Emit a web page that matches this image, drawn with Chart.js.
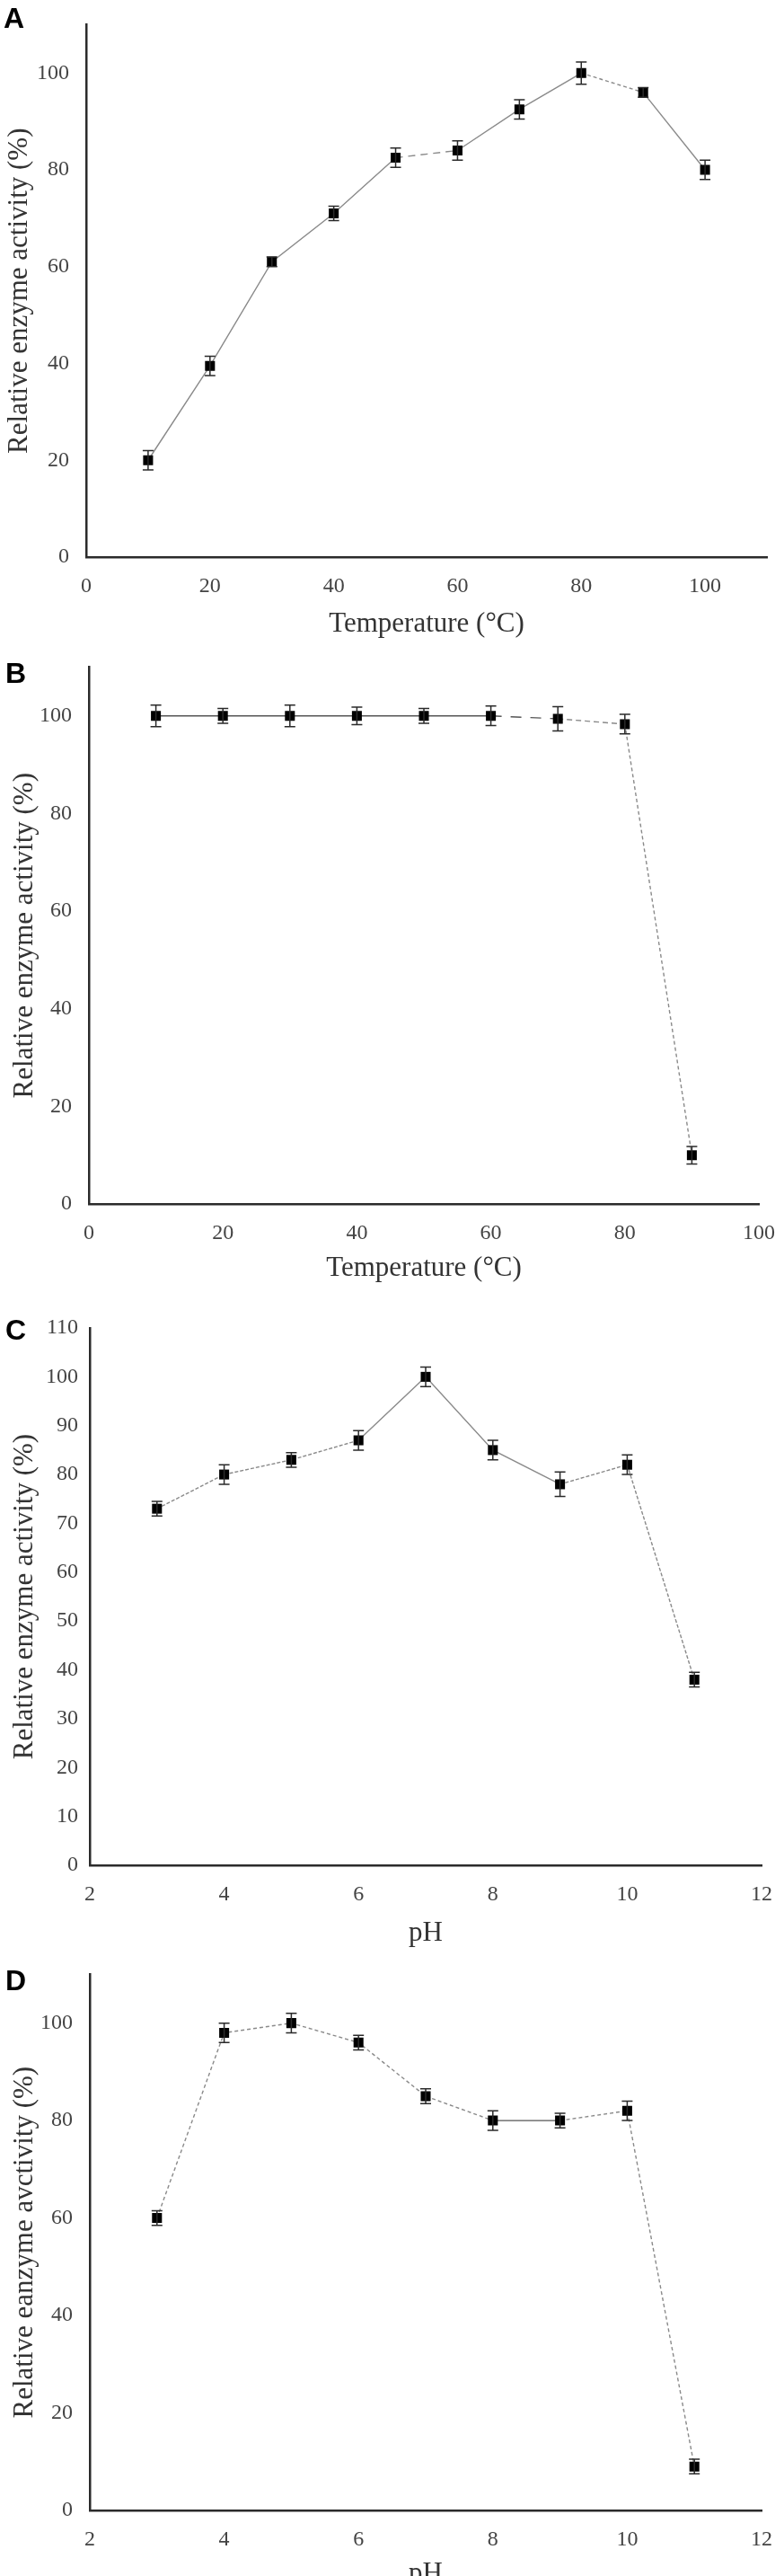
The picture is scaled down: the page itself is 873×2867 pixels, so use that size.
<!DOCTYPE html>
<html>
<head>
<meta charset="utf-8">
<script src="https://cdn.jsdelivr.net/npm/chart.js@4.4.1/dist/chart.umd.min.js"></script>
<style>
  html, body { margin: 0; padding: 0; background: #fff; overflow: hidden; }
  body { width: 873px; height: 2867px; position: relative; }
  .panel { position: absolute; left: 0; width: 873px; }
  .letter { position: absolute; font: bold 32px "Liberation Sans", Arial, sans-serif; line-height: 32px; color: #000; }
</style>
</head>
<body>
<div class="panel" style="top:0;height:715px"><canvas id="chartA"></canvas></div>
<div class="panel" style="top:715px;height:715px"><canvas id="chartB"></canvas></div>
<div class="panel" style="top:1430px;height:740px"><canvas id="chartC"></canvas></div>
<div class="panel" style="top:2170px;height:720px"><canvas id="chartD"></canvas></div>
<div class="letter" style="left:4px;top:4px">A</div>
<div class="letter" style="left:6px;top:733px">B</div>
<div class="letter" style="left:6px;top:1464px">C</div>
<div class="letter" style="left:6px;top:2188px">D</div>
<script>
// A: optimum temperature
const tempA = [10, 20, 30, 40, 50, 60, 70, 80, 90, 100];
const activityA = [20, 39.5, 61, 71, 82.5, 84, 92.5, 100, 96, 80];
const errorA = [2, 2, 1, 1.5, 2, 2, 2, 2.3, 1, 2];
const xTicksA = [0, 20, 40, 60, 80, 100];

// B: thermal stability
const tempB = [10, 20, 30, 40, 50, 60, 70, 80, 90];
const activityB = [100, 100, 100, 100, 100, 100, 99.4, 98.3, 10];
const errorB = [2.2, 1.5, 2.2, 1.8, 1.5, 2, 2.5, 2, 1.8];
const xTicksB = [0, 20, 40, 60, 80, 100];

// C: optimum pH
const phC = [3, 4, 5, 6, 7, 8, 9, 10, 11];
const activityC = [73, 80, 83, 87, 100, 85, 78, 82, 38];
const errorC = [1.5, 2, 1.5, 2, 2, 2, 2.5, 2, 1.5];

// D: pH stability
const phD = [3, 4, 5, 6, 7, 8, 9, 10, 11];
const activityD = [60, 98, 100, 96, 85, 80, 80, 82, 9];
const errorD = [1.5, 2, 2, 1.5, 1.5, 2, 1.5, 2, 1.5];

const xTicksPh = [2, 4, 6, 8, 10, 12];
const yTicks20 = [0, 20, 40, 60, 80, 100];
const yTicks10 = [0, 10, 20, 30, 40, 50, 60, 70, 80, 90, 100, 110];
const yMinorC = [5, 15, 25, 35, 45, 55, 65, 75, 85, 95, 105];

const tickFont = { family: '"Liberation Serif", "Times New Roman", serif', size: 24 };
const titleFont = { family: '"Liberation Serif", "Times New Roman", serif', size: 31 };

const errorBars = {
  id: 'errorBars',
  afterDatasetsDraw(chart, args, options) {
    const { ctx, scales: { x, y } } = chart;
    const points = chart.data.datasets[0].data;
    ctx.save();
    ctx.strokeStyle = '#2a2a2a';
    ctx.lineWidth = 1.5;
    points.forEach((p, i) => {
      const e = options.errors[i];
      const px = x.getPixelForValue(p.x);
      const hi = y.getPixelForValue(p.y + e);
      const lo = y.getPixelForValue(p.y - e);
      ctx.beginPath();
      ctx.moveTo(px, hi); ctx.lineTo(px, lo);
      ctx.moveTo(px - 6, hi); ctx.lineTo(px + 6, hi);
      ctx.moveTo(px - 6, lo); ctx.lineTo(px + 6, lo);
      ctx.stroke();
    });
    ctx.restore();
  }
};

function initChart(id, opts) {
  const { xs, ys, errors, xMin, xMax, xTicks, yTicks, yMinor = [], xTitle, yTitle, dashes, colors, box } = opts;
  const height = document.getElementById(id).parentNode.clientHeight;
  return new Chart(id, {
    type: 'line',
    data: {
      datasets: [{
        data: xs.map((x, i) => ({ x, y: ys[i] })),
        borderColor: '#8a8a8a',
        borderWidth: 1.4,
        pointStyle: 'rect',
        pointRadius: 7.8,
        pointBackgroundColor: '#000',
        pointBorderWidth: 0,
        tension: 0,
        segment: {
          borderDash: c => dashes[c.p0DataIndex],
          borderColor: c => colors[c.p0DataIndex]
        }
      }]
    },
    options: {
      responsive: true,
      maintainAspectRatio: false,
      animation: false,
      events: [],
      layout: { padding: { top: box.top, right: 873 - box.right, left: 0, bottom: 0 } },
      plugins: { legend: { display: false }, tooltip: { enabled: false }, errorBars: { errors } },
      scales: {
        x: {
          type: 'linear',
          min: xMin,
          max: xMax,
          afterBuildTicks: s => { s.ticks = xTicks.map(value => ({ value })); },
          afterFit: s => { s.height = height - box.bottom; },
          grid: { display: false },
          border: { color: '#2b2b2b', width: 2.5 },
          ticks: { font: tickFont, color: '#444', padding: 10 },
          title: { display: true, text: xTitle, font: titleFont, color: '#333', padding: { top: 0, bottom: box.xTitlePad } }
        },
        y: {
          min: 0,
          max: 110,
          afterBuildTicks: s => { s.ticks = yTicks.concat(yMinor).sort((a, b) => a - b).map(value => ({ value })); },
          afterFit: s => { s.width = box.left; },
          grid: {
            display: yMinor.length > 0,
            drawOnChartArea: false,
            tickLength: 6,
            tickWidth: 2,
            tickColor: c => (c.tick && yMinor.includes(c.tick.value)) ? '#333' : 'rgba(0,0,0,0)'
          },
          border: { color: '#2b2b2b', width: 2.5 },
          ticks: {
            font: tickFont,
            color: '#444',
            padding: yMinor.length ? 7 : 13,
            callback: v => yMinor.includes(v) ? '' : v
          },
          title: { display: true, text: yTitle, font: titleFont, color: '#333', padding: { top: box.yTitlePad, bottom: 0 } }
        }
      }
    },
    plugins: [errorBars]
  });
}

const grey = '#8a8a8a';
const dark = '#555';

initChart('chartA', {
  xs: tempA, ys: activityA, errors: errorA, xMin: 0, xMax: 110, xTicks: xTicksA, yTicks: yTicks20,
  xTitle: 'Temperature (\u00B0C)', yTitle: 'Relative enzyme activity (%)',
  dashes: [[], [], [], [], [8, 6], [], [], [4, 3], []],
  colors: [grey, grey, grey, grey, grey, grey, grey, grey, grey],
  box: { top: 8, bottom: 620, left: 96, right: 854, xTitlePad: 2, yTitlePad: 3 }
});

initChart('chartB', {
  xs: tempB, ys: activityB, errors: errorB, xMin: 0, xMax: 100, xTicks: xTicksB, yTicks: yTicks20,
  xTitle: 'Temperature (\u00B0C)', yTitle: 'Relative enzyme activity (%)',
  dashes: [[], [], [], [], [], [12, 10], [6, 4], [4, 3]],
  colors: [dark, dark, dark, dark, dark, dark, grey, grey],
  box: { top: 26, bottom: 625, left: 99, right: 846, xTitlePad: 0, yTitlePad: 9 }
});

initChart('chartC', {
  xs: phC, ys: activityC, errors: errorC, xMin: 2, xMax: 12, xTicks: xTicksPh, yTicks: yTicks10, yMinor: yMinorC,
  xTitle: 'pH', yTitle: 'Relative enzyme activity (%)',
  dashes: [[4, 2], [4, 2], [4, 2], [], [], [], [4, 2], [4, 2]],
  colors: [grey, grey, grey, grey, grey, grey, grey, grey],
  box: { top: 48, bottom: 646, left: 100, right: 848, xTitlePad: 0, yTitlePad: 9 }
});

initChart('chartD', {
  xs: phD, ys: activityD, errors: errorD, xMin: 2, xMax: 12, xTicks: xTicksPh, yTicks: yTicks20,
  xTitle: 'pH', yTitle: 'Relative eanzyme avctivity (%)',
  dashes: [[4, 3], [4, 3], [4, 3], [4, 3], [4, 3], [], [4, 3], [4, 3]],
  colors: [grey, grey, grey, grey, grey, dark, grey, grey],
  box: { top: 25, bottom: 624, left: 100, right: 848, xTitlePad: 7, yTitlePad: 9 }
});
</script>
</body>
</html>
